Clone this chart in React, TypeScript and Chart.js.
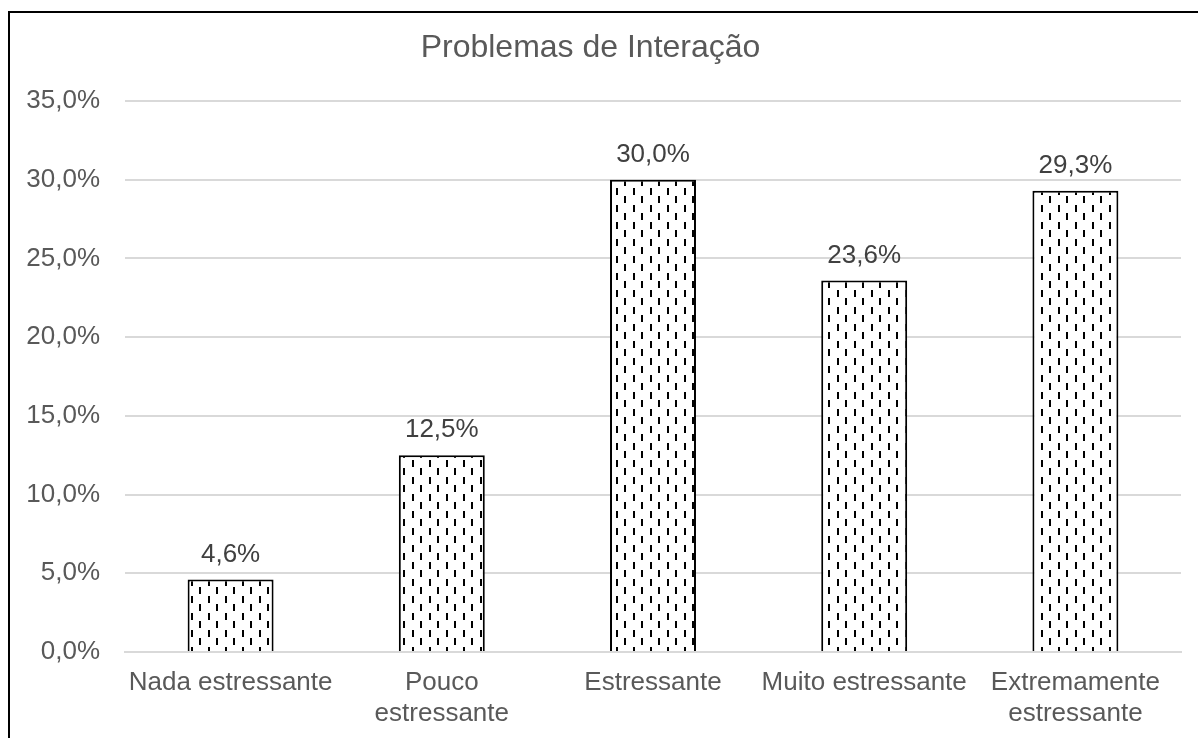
import React, { useEffect, useRef } from "react";
import { Chart, registerables } from "chart.js";

Chart.register(...registerables);

const categories: (string | string[])[] = [
  "Nada estressante",
  ["Pouco", "estressante"],
  "Estressante",
  "Muito estressante",
  ["Extremamente", "estressante"],
];
const values: number[] = [4.6, 12.5, 30.0, 23.6, 29.3];
const yMin = 0;
const yMax = 35;
const yStep = 5;
const chartTitle = "Problemas de Interação";

const FONT = "'Liberation Sans', Arial, sans-serif";
const fmt = (v: number) => v.toFixed(1).replace(".", ",") + "%";

function makePattern(): CanvasPattern | string {
  const tile = document.createElement("canvas");
  tile.width = 17;
  tile.height = 17;
  const c = tile.getContext("2d");
  if (!c) return "#ffffff";
  c.fillStyle = "#ffffff";
  c.fillRect(0, 0, 17, 17);
  c.fillStyle = "#000000";
  c.fillRect(4, 1, 2, 7);
  c.fillRect(12, 9, 2, 7);
  const p = c.createPattern(tile, "repeat");
  return p || "#ffffff";
}

const dataLabels = {
  id: "dataLabels",
  afterDatasetsDraw(chart: any) {
    const ctx = chart.ctx;
    const meta = chart.getDatasetMeta(0);
    ctx.save();
    ctx.font = `26px ${FONT}`;
    ctx.fillStyle = "#404040";
    ctx.textAlign = "center";
    ctx.textBaseline = "middle";
    meta.data.forEach((bar: any, i: number) => {
      const { x, y } = bar.getProps(["x", "y"], true);
      ctx.fillText(fmt(values[i]), x, y - 25);
    });
    ctx.restore();
  },
};

export default function App() {
  const ref = useRef<HTMLCanvasElement | null>(null);

  useEffect(() => {
    if (!ref.current) return;
    const pattern = makePattern();
    const chart = new Chart(ref.current, {
      type: "bar",
      data: {
        labels: categories as any,
        datasets: [
          {
            data: values,
            backgroundColor: pattern as any,
            borderColor: "#000000",
            borderWidth: 2,
            barPercentage: 0.407,
            categoryPercentage: 1,
          },
        ],
      },
      options: {
        responsive: false,
        animation: false,
        devicePixelRatio: 1,
        layout: { padding: { left: 0, right: 17, top: 0, bottom: 0 } },
        plugins: {
          legend: { display: false },
          tooltip: { enabled: false },
          title: {
            display: true,
            text: chartTitle,
            color: "#595959",
            font: { family: FONT, size: 32, weight: "normal" as any },
            padding: { top: 29, bottom: 33.6 },
          },
        },
        scales: {
          x: {
            grid: { display: false, drawTicks: false },
            border: { display: true, color: "#d9d9d9", width: 2 },
            ticks: {
              color: "#595959",
              font: { family: FONT, size: 26 },
              padding: 15,
              autoSkip: false,
              maxRotation: 0,
              minRotation: 0,
            },
            afterFit: (s: any) => {
              s.height = 86;
            },
          },
          y: {
            min: yMin,
            max: yMax,
            ticks: {
              stepSize: yStep,
              color: "#595959",
              font: { family: FONT, size: 26 },
              padding: 25,
              callback: (v: any) => fmt(Number(v)),
            },
            grid: { color: "#d9d9d9", lineWidth: 2, drawTicks: false },
            border: { display: false },
            afterFit: (s: any) => {
              s.width = 125;
            },
          },
        },
      },
      plugins: [dataLabels],
    });
    return () => chart.destroy();
  }, []);

  return (
    <div
      style={{
        position: "fixed",
        left: 0,
        top: 0,
        width: 1198,
        height: 738,
        overflow: "hidden",
        background: "#ffffff",
      }}
    >
      <div
        style={{
          position: "absolute",
          left: 8,
          top: 11,
          width: 2000,
          height: 2000,
          borderLeft: "2px solid #000",
          borderTop: "2px solid #000",
        }}
      />
      <canvas
        ref={ref}
        width={1198}
        height={738}
        style={{ position: "absolute", left: 0, top: 0, width: 1198, height: 738 }}
      />
    </div>
  );
}
